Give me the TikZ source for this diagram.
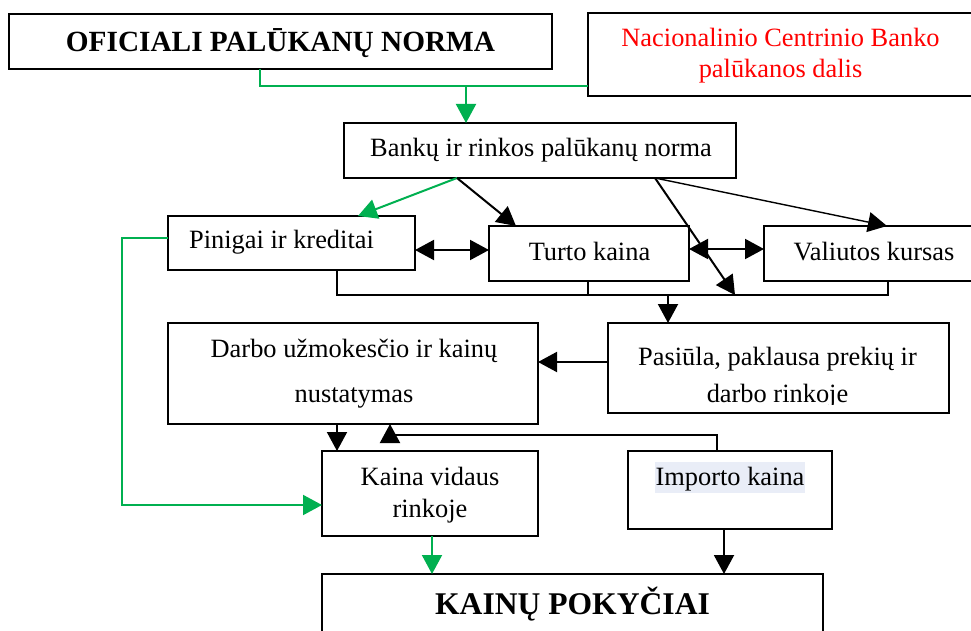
\documentclass[tikz,border=0pt]{standalone}
\usepackage{fontspec}
\setmainfont{Liberation Serif}
\usetikzlibrary{arrows.meta}
\definecolor{flowgreen}{RGB}{0,176,80}
\definecolor{hilite}{RGB}{233,237,247}
\begin{document}
\begin{tikzpicture}[x=1pt,y=-1pt,
  box/.style={draw=black, line width=2pt, rectangle, anchor=north west, inner sep=0pt, outer sep=0pt},
  lbl/.style={anchor=base, inner sep=0pt, font=\fontsize{26.4}{30}\selectfont},
  title/.style={anchor=base, inner sep=0pt, font=\fontsize{29.3}{33}\selectfont\bfseries},
  tip/.style={-{Triangle[length=19pt,width=20pt]}},
  dtip/.style={{Triangle[length=19pt,width=20pt]}-{Triangle[length=19pt,width=20pt]}},
  link/.style={line width=2pt, draw=black},
  thinlink/.style={line width=1.4pt, draw=black},
  glink/.style={line width=2pt, draw=flowgreen}]
\useasboundingbox (0,0) rectangle (971,631);

% boxes
\node[box, minimum width=543pt, minimum height=55pt] (ofic)  at (9,14)    {};
\node[box, minimum width=402pt, minimum height=83pt] (ncb)   at (588,13)  {};
\node[box, minimum width=392pt, minimum height=55pt] (bank)  at (344,123) {};
\node[box, minimum width=247pt, minimum height=54pt] (pin)   at (168,216) {};
\node[box, minimum width=200pt, minimum height=55pt] (turto) at (489,226) {};
\node[box, minimum width=226pt, minimum height=55pt] (val)   at (764,226) {};
\node[box, minimum width=370pt, minimum height=101pt] (darbo) at (168,323) {};
\node[box, minimum width=341pt, minimum height=90pt] (pas)   at (608,323) {};
\node[box, minimum width=216pt, minimum height=85pt] (kaina) at (322,451) {};
\node[box, minimum width=204pt, minimum height=78pt] (imp)   at (628,451) {};
\node[box, minimum width=501pt, minimum height=90pt] (kp)    at (322,574) {};

% texts
\node[title] (toFic) at (280.5,52) {OFICIALI PALŪKANŲ NORMA};
\node[lbl, text=red] (tNcb1) at (780.5,47) {Nacionalinio Centrinio Banko};
\node[lbl, text=red] (tNcb2) at (780.5,78) {palūkanos dalis};
\node[lbl] (tBank) at (541,157) {Bankų ir rinkos palūkanų norma};
\node[lbl] (tPin) at (281.5,248) {Pinigai ir kreditai};
\node[lbl] (tTurto) at (589.5,260) {Turto kaina};
\node[lbl] (tVal) at (874,260) {Valiutos kursas};
\node[lbl] (tDarbo1) at (354,357) {Darbo užmokesčio ir kainų};
\node[lbl] (tDarbo2) at (354,402) {nustatymas};
\node[lbl] (tPas1) at (777.5,365) {Pasiūla, paklausa prekių ir};
\begin{scope}
  \clip (610,370) rectangle (947,404);
  \node[lbl] (tPas2) at (777.5,402) {darbo rinkoje};
\end{scope}
\node[lbl] (tKaina1) at (430,485) {Kaina vidaus};
\node[lbl] (tKaina2) at (430,517) {rinkoje};
\fill[hilite] (655,462) rectangle (805,493);
\node[lbl] (tImp) at (730,485) {Importo kaina};
\node[title, font=\fontsize{31.6}{35}\selectfont\bfseries] (tKp) at (572.5,614) {KAINŲ POKYČIAI};

% green links from the official rate
\coordinate (oS) at ([xshift=-20.5pt]ofic.south);
\coordinate (gy) at (0,86);
\coordinate (gA) at (466,86);
\draw[glink] (oS) |- (gy -| ncb.west);
\draw[glink, tip] (gA) -- (gA |- bank.north);

% links out of the bank rate
\coordinate (bL) at ([xshift=-83pt]bank.south);
\coordinate (bR) at ([xshift=115pt]bank.south);
\coordinate (dj) at (735,295);
\draw[glink, tip] (bL) -- ([xshift=66.5pt]pin.north);
\draw[link, tip] (bL) -- ([xshift=-73pt]turto.north);
\draw[thinlink, tip] (bR) -- ([xshift=10pt]val.north);
\draw[link, tip] (bR) -- (dj);

% two-way links in the middle row
\coordinate (pE) at ([yshift=-7pt]pin.east);
\coordinate (tE) at ([yshift=4.5pt]turto.east);
\draw[link, dtip] (pE) -- (pE -| turto.west);
\draw[link, dtip] (tE) -- (tE -| val.west);

% collecting bus under the middle row
\coordinate (bus) at (0,295);
\coordinate (pS) at ([xshift=45.5pt]pin.south);
\coordinate (vS) at ([xshift=11pt]val.south);
\coordinate (tS) at ([xshift=-1pt]turto.south);
\coordinate (pN) at ([xshift=-110.5pt]pas.north);
\draw[link] (pS) |- (bus -| vS) -- (vS);
\draw[link] (tS) -- (bus -| tS);
\draw[link, tip] (bus -| pN) -- (pN);

% supply/demand to wage setting
\coordinate (pW) at ([yshift=6pt]pas.west);
\draw[link, tip] (pW) -- (pW -| darbo.east);

% wage setting to domestic price
\coordinate (dS) at ([xshift=-16pt]darbo.south);
\draw[link, tip] (dS) -- (dS |- kaina.north);

% import price feedback
\coordinate (iN) at ([xshift=-13pt]imp.north);
\coordinate (fb) at (0,435);
\coordinate (dS2) at ([xshift=37pt]darbo.south);
\draw[link, tip] (iN) |- (fb -| dS2) -- (dS2);

% money and credit to domestic price
\coordinate (gW) at ([yshift=5pt]pin.west);
\coordinate (gx) at (122,0);
\coordinate (kW) at ([yshift=-11.5pt]kaina.west);
\draw[glink, tip] (gW) -- (gW -| gx) |- (kW);

% into price changes
\coordinate (kS) at ([xshift=2pt]kaina.south);
\draw[glink, tip] (kS) -- (kS |- kp.north);
\coordinate (iS) at ([xshift=-6pt]imp.south);
\draw[link, tip] (iS) -- (iS |- kp.north);
\end{tikzpicture}
\end{document}
